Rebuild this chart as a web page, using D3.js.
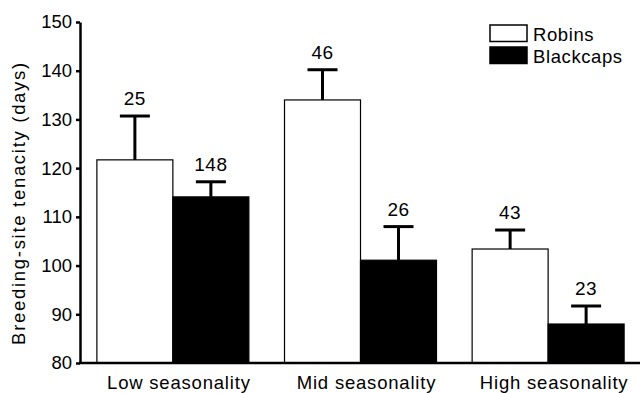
<!DOCTYPE html>
<html>
  <head>
    <style>
      body, html { margin: 0; padding: 0; background: #fff; }
      text { font-family: 'Liberation Sans', Arial, sans-serif; fill: #000; }
    </style>
  </head>
  <body>
    <svg id="svg" width="641" height="393"></svg>
    <script src="https://cdn.jsdelivr.net/npm/d3@7"></script>
    <script>
      const groups = ['Low seasonality', 'Mid seasonality', 'High seasonality'];
      const species = ['Robins', 'Blackcaps'];
      const robins = [121.7, 134.0, 103.4];
      const robinsUpper = [130.7, 140.2, 107.3];
      const robinsN = [25, 46, 43];
      const blackcaps = [114.1, 101.1, 88.0];
      const blackcapsUpper = [117.2, 108.0, 91.7];
      const blackcapsN = [148, 26, 23];
      const yTicks = [80, 90, 100, 110, 120, 130, 140, 150];

      const svg = d3.select('#svg');
      const x0 = d3.scaleBand().domain(groups).range([80, 641])
        .paddingInner(0.19).paddingOuter(0.09);
      const x1 = d3.scaleBand().domain(species).range([0, x0.bandwidth()]);
      const y = d3.scaleLinear().domain([80, 150]).range([363, 22]);
      const fills = { Robins: '#fff', Blackcaps: '#000' };

      const rows = [];
      groups.forEach((g, i) => {
        rows.push({ g, s: 'Robins', v: robins[i], up: robinsUpper[i], n: robinsN[i] });
        rows.push({ g, s: 'Blackcaps', v: blackcaps[i], up: blackcapsUpper[i], n: blackcapsN[i] });
      });
      const cx = (d) => x0(d.g) + x1(d.s) + x1.bandwidth() / 2;

      // bars
      svg.selectAll('rect.bar').data(rows).join('rect')
        .attr('class', 'bar')
        .attr('x', (d) => x0(d.g) + x1(d.s))
        .attr('y', (d) => y(d.v))
        .attr('width', x1.bandwidth())
        .attr('height', (d) => y(80) - y(d.v))
        .attr('fill', (d) => fills[d.s])
        .attr('stroke', '#000')
        .attr('stroke-width', 1.2);

      // error bars
      svg.selectAll('line.stem').data(rows).join('line')
        .attr('x1', cx).attr('x2', cx)
        .attr('y1', (d) => y(d.v)).attr('y2', (d) => y(d.up))
        .attr('stroke', '#000').attr('stroke-width', 3);
      svg.selectAll('line.cap').data(rows).join('line')
        .attr('x1', (d) => cx(d) - 15).attr('x2', (d) => cx(d) + 15)
        .attr('y1', (d) => y(d.up)).attr('y2', (d) => y(d.up))
        .attr('stroke', '#000').attr('stroke-width', 3);

      // sample sizes
      svg.selectAll('text.n').data(rows).join('text')
        .attr('x', cx).attr('y', (d) => y(d.up) - 11)
        .attr('text-anchor', 'middle')
        .attr('font-size', 19)
        .attr('letter-spacing', 0.5)
        .text((d) => d.n);

      // y axis
      const yAxis = svg.append('g').attr('transform', 'translate(80,0)')
        .call(d3.axisLeft(y).tickValues(yTicks).tickSize(4).tickPadding(4).tickSizeOuter(0));
      yAxis.select('.domain').attr('stroke-width', 2.5);
      yAxis.selectAll('.tick line').attr('stroke-width', 2.5);
      yAxis.selectAll('.tick text').attr('font-size', 18.5)
        .style('font-family', "'Liberation Sans', Arial, sans-serif");

      // x axis line
      svg.append('line')
        .attr('x1', 79).attr('x2', 640)
        .attr('y1', y(80)).attr('y2', y(80))
        .attr('stroke', '#000').attr('stroke-width', 2.5);

      svg.selectAll('text.xl').data(groups).join('text')
        .attr('x', (d) => x0(d) + x0.bandwidth() / 2 + 6)
        .attr('y', 389)
        .attr('text-anchor', 'middle')
        .attr('font-size', 18.5)
        .attr('letter-spacing', 0.8)
        .text((d) => d);

      // y title
      svg.append('text')
        .attr('transform', 'translate(25,203) rotate(-90)')
        .attr('text-anchor', 'middle')
        .attr('font-size', 18.5)
        .attr('letter-spacing', 1.7)
        .text('Breeding-site tenacity (days)');

      // legend
      const legend = svg.append('g');
      species.forEach((s, i) => {
        legend.append('rect')
          .attr('x', 490).attr('y', 25 + i * 22)
          .attr('width', 37).attr('height', 16.5)
          .attr('fill', fills[s]).attr('stroke', '#000').attr('stroke-width', 1.5);
        legend.append('text')
          .attr('x', 533).attr('y', 41 + i * 22)
          .attr('font-size', 18.5)
          .attr('letter-spacing', 0.6)
          .text(s);
      });
    </script>
  </body>
</html>
